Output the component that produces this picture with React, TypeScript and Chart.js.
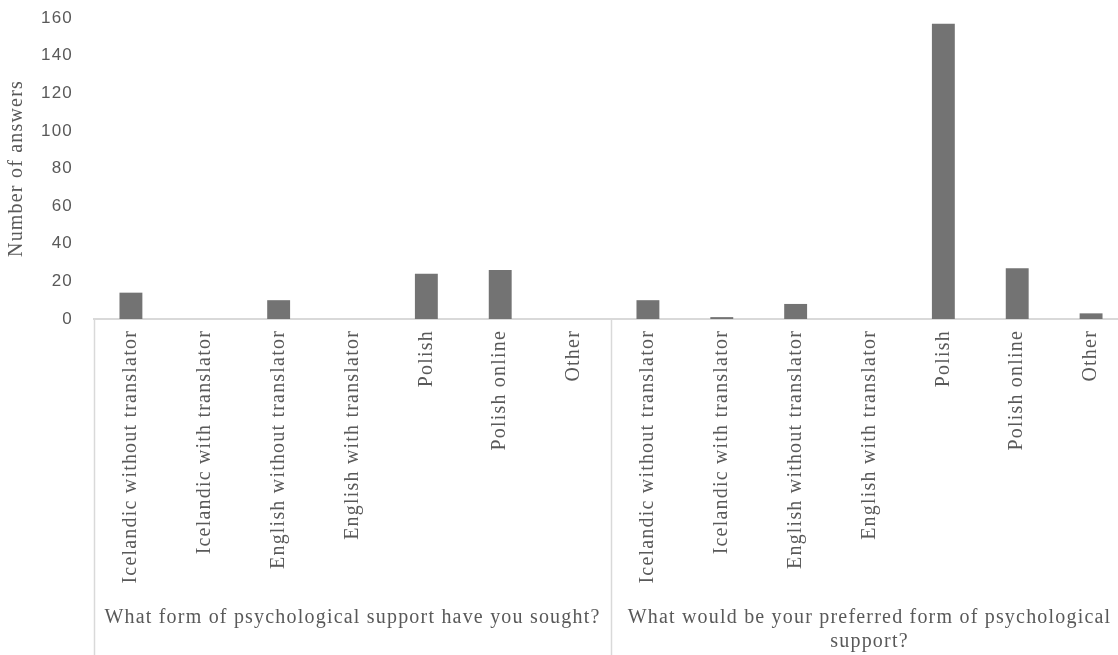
import React, { useEffect, useRef } from "react";
import { Chart, registerables } from "chart.js";

Chart.register(...registerables);

const subCategories: string[] = [
  "Icelandic without translator",
  "Icelandic with translator",
  "English without translator",
  "English with translator",
  "Polish",
  "Polish online",
  "Other",
];
const groupLabels: string[][] = [
  ["What form of psychological support have you sought?"],
  ["What would be your preferred form of psychological", "support?"],
];
const soughtValues: number[] = [14, 0, 10, 0, 24, 26, 0];
const preferredValues: number[] = [10, 1, 8, 0, 157, 27, 3];
const yMin = 0;
const yMax = 160;
const yStep = 20;
const yTitle = "Number of answers";

const TEXT = "#595959";
const LINE = "#d9d9d9";
const SPACING = "1.2px";
const SERIF = '"Liberation Serif", "Times New Roman", serif';

const spacingPlugin = {
  id: "letterSpacing",
  beforeUpdate(chart: any) {
    chart.ctx.letterSpacing = SPACING;
  },
  beforeLayout(chart: any) {
    chart.ctx.letterSpacing = SPACING;
  },
  beforeDraw(chart: any) {
    chart.ctx.letterSpacing = SPACING;
  },
};

const groupPlugin = {
  id: "groupAxis",
  afterDraw(chart: any) {
    const { ctx, chartArea } = chart;
    const x = chart.scales.x;
    const n = subCategories.length;
    const step = x.getPixelForValue(1) - x.getPixelForValue(0);
    ctx.save();
    ctx.letterSpacing = SPACING;
    ctx.strokeStyle = LINE;
    ctx.lineWidth = 1.5;
    ctx.fillStyle = TEXT;
    ctx.font = "20px " + SERIF;
    ctx.textAlign = "center";
    ctx.textBaseline = "alphabetic";
    groupLabels.forEach((lines, g) => {
      const left = x.getPixelForValue(g * n) - step / 2;
      const right = left + n * step;
      const edges = g === groupLabels.length - 1 ? [left, right] : [left];
      edges.forEach((ex) => {
        ctx.beginPath();
        ctx.moveTo(Math.round(ex) + 0.5, chartArea.bottom);
        ctx.lineTo(Math.round(ex) + 0.5, chart.height);
        ctx.stroke();
      });
      const cx = (left + right) / 2;
      lines.forEach((line, i) => {
        ctx.fillText(line, cx, chart.height - 32 + i * 24);
      });
    });
    ctx.restore();
  },
};

export default function App() {
  const ref = useRef<HTMLCanvasElement | null>(null);

  useEffect(() => {
    if (!ref.current) return;
    const labels = [...subCategories, ...subCategories];
    const values = [...soughtValues, ...preferredValues];
    const chart = new Chart(ref.current, {
      type: "bar",
      data: {
        labels,
        datasets: [
          {
            data: values,
            backgroundColor: "#737373",
            borderWidth: 0,
            barPercentage: 0.31,
            categoryPercentage: 1,
          },
        ],
      },
      options: {
        animation: false,
        responsive: true,
        maintainAspectRatio: false,
        layout: { padding: { top: 18, right: 0, bottom: 0, left: 0 } },
        plugins: {
          legend: { display: false },
          tooltip: { enabled: false },
        },
        scales: {
          x: {
            offset: true,
            grid: { display: false, drawTicks: false },
            border: { display: true, color: LINE, width: 2 },
            ticks: {
              autoSkip: false,
              maxRotation: 90,
              minRotation: 90,
              padding: 11,
              color: TEXT,
              font: { family: SERIF, size: 20 },
            },
            afterFit(scale: any) {
              scale.height = 336;
            },
          },
          y: {
            min: yMin,
            max: yMax,
            grid: { display: false, drawTicks: false },
            border: { display: false },
            ticks: {
              stepSize: yStep,
              padding: 21,
              color: TEXT,
              font: { family: '"Liberation Sans", Arial, sans-serif', size: 17 },
            },
            title: {
              display: true,
              text: yTitle,
              color: TEXT,
              padding: { top: 5, bottom: 4 },
              font: { family: SERIF, size: 20 },
            },
            afterFit(scale: any) {
              scale.width = 94;
              scale.paddingTop = 9;
              scale.paddingBottom = 9;
            },
          },
        },
      },
      plugins: [spacingPlugin, groupPlugin],
    });
    return () => chart.destroy();
  }, []);

  return (
    <div
      style={{
        position: "absolute",
        left: 0,
        top: 0,
        width: 1118,
        height: 655,
        overflow: "hidden",
        background: "#fff",
      }}
    >
      <div style={{ position: "relative", width: 1128, height: 655 }}>
        <canvas ref={ref} />
      </div>
    </div>
  );
}
